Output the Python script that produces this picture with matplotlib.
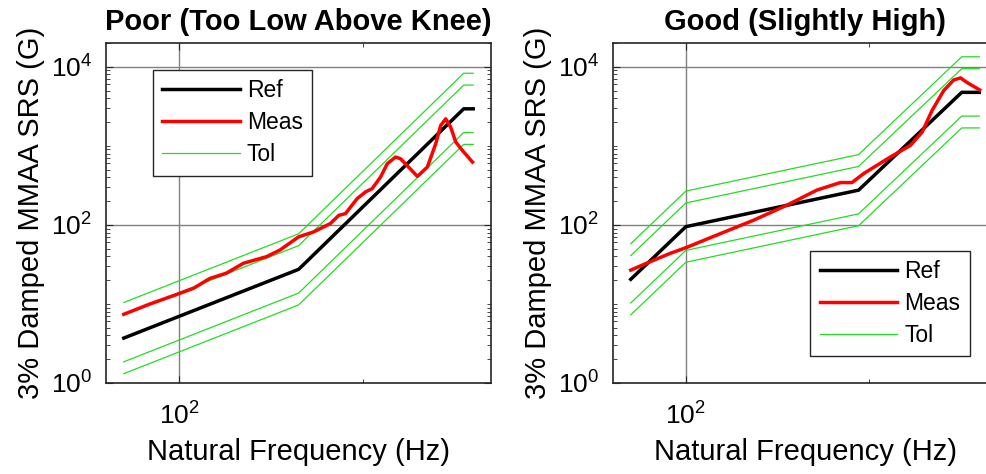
import numpy as np
import matplotlib.pyplot as plt
from matplotlib.ticker import FixedLocator, LogFormatterSciNotation, NullFormatter

plt.rcParams['font.family'] = ['Liberation Sans', 'DejaVu Sans']
plt.rcParams['font.size'] = 19

# Poor case
freq_ref_poor = [50, 448, 3550, 4000]
ref_poor = [3.7, 27.4, 2940, 2940]
freq_meas_poor = [50, 69.5, 99, 120, 147, 181, 224, 300, 354, 448, 541, 667, 741, 806,
                  933, 1036, 1127, 1251, 1361, 1511, 1609, 1986, 2250, 2500, 2660,
                  2833, 3016, 3215, 3494, 3963]
meas_poor = [7.4, 10.0, 13.4, 15.8, 21, 24.5, 32.7, 39.7, 48, 70.6, 81.6, 104, 132, 139,
             215, 261, 288, 403, 594, 721, 687, 411, 539, 1063, 1807,
             2197, 1722, 1114, 875, 623]

# Good case
freq_ref_good = [50, 100, 877, 3210, 4000]
ref_good = [20.5, 95, 275, 4750, 4750]
freq_meas_good = [50, 63.8, 82, 101, 130, 168, 235, 357, 520, 697, 807, 934, 1306, 1682,
                  1950, 2210, 2558, 2900, 3160, 3430, 4020]
meas_good = [26.8, 34.2, 43.6, 51.9, 66, 84, 115, 178, 276, 343, 343, 445, 721, 1012,
             1490, 2800, 5000, 6810, 7240, 6330, 5100]

# tolerance bands in dB around the reference
tol_db = [9, 6, -6, -9]

titles = ['Poor (Too Low Above Knee)', 'Good (Slightly High)']
cases = [(freq_ref_poor, ref_poor, freq_meas_poor, meas_poor),
         (freq_ref_good, ref_good, freq_meas_good, meas_good)]

fig = plt.figure(figsize=(9.87, 4.74), dpi=100)
ax1 = fig.add_axes([106 / 987, 91 / 474, 385 / 987, 340 / 474])
ax2 = fig.add_axes([613 / 987, 91 / 474, 384 / 987, 340 / 474])

green = '#22dd22'
for ax, title, (fr, r, fm, m) in zip([ax1, ax2], titles, cases):
    ax.loglog(fr, r, color='black', lw=2.5, label='Ref', zorder=4)
    ax.loglog(fm, m, color='#ff0000', lw=2.5, label='Meas', zorder=5)
    for i, db in enumerate(tol_db):
        ax.loglog(fr, np.array(r) * 10 ** (db / 20), color=green, lw=0.9,
                  label='Tol' if i == 0 else None, zorder=3)
    ax.set_xlim(40, 5000)
    ax.set_ylim(1, 2e4)
    ax.xaxis.set_major_locator(FixedLocator([100]))
    ax.xaxis.set_minor_locator(FixedLocator([1000]))
    ax.xaxis.set_minor_formatter(NullFormatter())
    ax.yaxis.set_major_locator(FixedLocator([1, 100, 10000]))
    ax.yaxis.set_major_formatter(LogFormatterSciNotation())
    ax.yaxis.set_minor_locator(FixedLocator(
        [k * 10 ** e for e in range(0, 5) for k in range(2, 10)] + [10, 1000]))
    ax.yaxis.set_minor_formatter(NullFormatter())
    ax.grid(True, which='major', color='#808080', lw=1.0)
    ax.tick_params(which='both', direction='in', top=True, right=True, color='#262626')
    ax.tick_params(which='major', length=5)
    ax.tick_params(which='minor', length=3)
    ax.tick_params(axis='x', pad=14)
    ax.tick_params(axis='y', pad=10)
    for s in ax.spines.values():
        s.set_color('#262626')
        s.set_linewidth(1.2)
    ax.set_title(title, fontweight='bold', fontsize=21, pad=9)
    ax.set_xlabel('Natural Frequency (Hz)', fontsize=21, labelpad=6)
    ax.set_ylabel('3% Damped MMAA SRS (G)', fontsize=21, labelpad=4)

leg_kw = dict(loc='upper left', borderaxespad=0, fancybox=False, edgecolor='#262626',
              framealpha=1, handlelength=3.4, labelspacing=0.4, borderpad=0.4,
              handletextpad=0.3, fontsize=16.5)
l1 = ax1.legend(bbox_to_anchor=(0.122, 0.921), **leg_kw)
l2 = ax2.legend(bbox_to_anchor=(0.514, 0.389), **leg_kw)
for leg in (l1, l2):
    leg.get_frame().set_linewidth(1.0)

fig.savefig('out.png', dpi=100)
